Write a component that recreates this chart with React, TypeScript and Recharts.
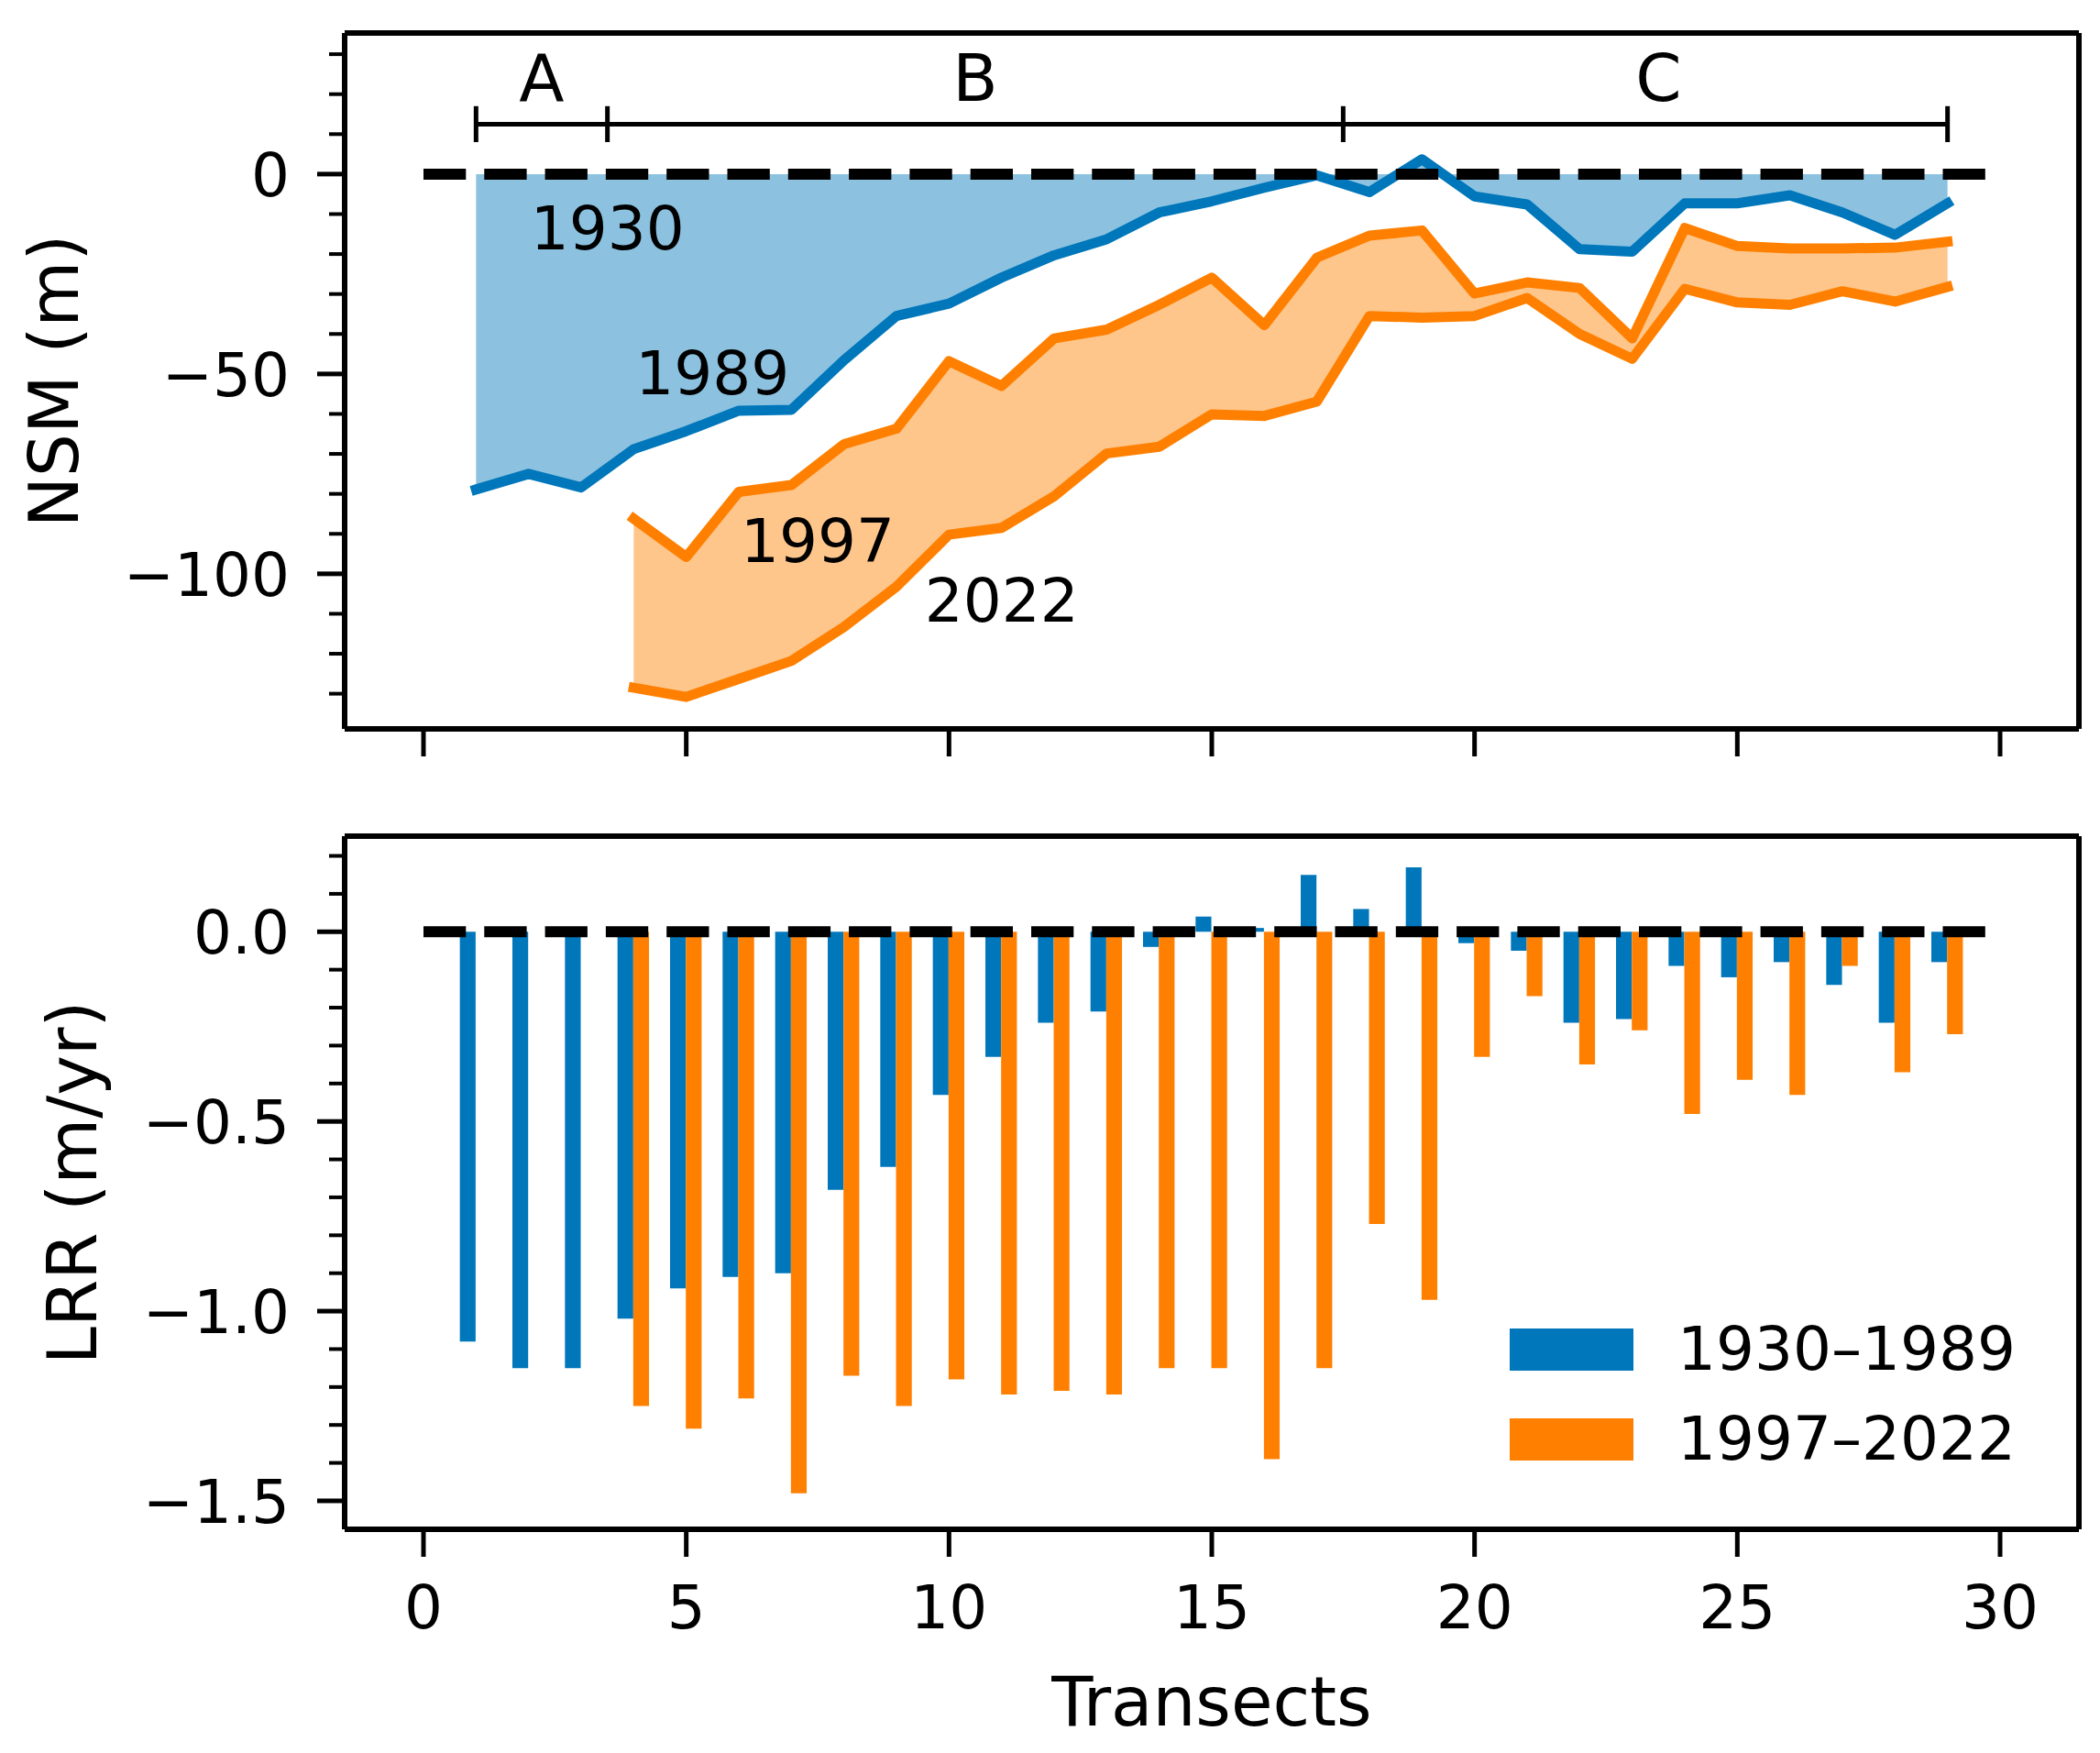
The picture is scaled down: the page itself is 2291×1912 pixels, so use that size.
import React from 'react';
import {
  ComposedChart,
  Line,
  Area,
  Bar,
  XAxis,
  YAxis,
  ReferenceLine,
  ReferenceDot,
  Legend,
} from 'recharts';

// ---------------- data ----------------
const TRANSECTS = [1, 2, 3, 4, 5, 6, 7, 8, 9, 10, 11, 12, 13, 14, 15, 16, 17, 18, 19, 20, 21, 22, 23, 24, 25, 26, 27, 28, 29];

const NSM_1989 = [-78.9, -75.0, -78.4, -68.8, -64.3, -59.2, -59.0, -46.6, -35.5, -32.4, -25.9, -20.3, -16.3, -9.6, -6.8, -3.4, -0.3, -4.5, 3.7, -5.6, -7.6, -18.8, -19.4, -7.3, -7.3, -5.3, -9.6, -15.2, -7.3];
const NSM_1997 = [null, null, null, -86.2, -95.8, -79.5, -77.8, -67.6, -63.7, -46.8, -53.0, -41.1, -38.9, -32.7, -25.9, -37.8, -20.9, -15.4, -14.1, -29.9, -27.1, -28.5, -41.1, -13.5, -18.0, -18.6, -18.6, -18.4, -16.9];
const NSM_2022 = [null, null, null, -128.5, -130.8, -126.3, -121.8, -113.3, -103.2, -90.2, -88.5, -80.6, -69.9, -68.2, -60.1, -60.5, -56.9, -35.5, -35.9, -35.5, -31.0, -40.0, -46.2, -28.7, -32.1, -32.7, -29.3, -31.9, -28.2];

const LRR_1930_1989 = [-1.08, -1.15, -1.15, -1.02, -0.94, -0.91, -0.9, -0.68, -0.62, -0.43, -0.33, -0.24, -0.21, -0.04, 0.04, 0.01, 0.15, 0.06, 0.17, -0.03, -0.05, -0.24, -0.23, -0.09, -0.12, -0.08, -0.14, -0.24, -0.08];
const LRR_1997_2022 = [null, null, null, -1.25, -1.31, -1.23, -1.48, -1.17, -1.25, -1.18, -1.22, -1.21, -1.22, -1.15, -1.15, -1.39, -1.15, -0.77, -0.97, -0.33, -0.17, -0.35, -0.26, -0.48, -0.39, -0.43, -0.09, -0.37, -0.27];

const SERIES_NAMES = ['1930–1989', '1997–2022'];

const X_TICKS = [0, 5, 10, 15, 20, 25, 30];
const NSM_TICKS = [30, 20, 10, 0, -10, -20, -30, -40, -50, -60, -70, -80, -90, -100, -110, -120, -130];
const NSM_MAJOR = [0, -50, -100];
const LRR_TICKS = [0.2, 0.1, 0, -0.1, -0.2, -0.3, -0.4, -0.5, -0.6, -0.7, -0.8, -0.9, -1.0, -1.1, -1.2, -1.3, -1.4, -1.5];
const LRR_MAJOR = [0, -0.5, -1.0, -1.5];

const SECTION_EDGES = [1, 3.5, 17.5, 29];
const SECTION_LABELS = ['A', 'B', 'C'];
const SECTION_LABEL_X = [2.25, 10.5, 23.5];
const SECTION_LABEL_Y = 24.2;
const SECTION_BAR_Y = 12.5;
const SECTION_TICK_Y = [8, 17];

const YEAR_LABELS = ['1930', '1989', '1997', '2022'];
const YEAR_LABEL_X = [3.5, 5.5, 7.5, 11.0];
const YEAR_LABEL_Y = [-13.3, -49.7, -91.5, -106.4];

const ZERO_LINE_X = [0, 30];

// ---------------- axes limits ----------------
const X_DOMAIN: [number, number] = [-1.5, 31.5];
const NSM_DOMAIN: [number, number] = [-138.8, 35.3];
const LRR_DOMAIN: [number, number] = [-1.575, 0.252];

// ---------------- style ----------------
const BLUE = '#0077BB';
const ORANGE = '#FF8000';
const FONT = '"DejaVu Sans", sans-serif';
const TICK_FONT = 66;
const LABEL_FONT = 74;
const SPINE_W = 6;
const LINE_W = 11;

const isMajor = (v: number, majors: number[]) => majors.some((m) => Math.abs(m - v) < 1e-9);
const fmtNsm = (v: number) => (v === 0 ? '0' : (v < 0 ? '\u2212' : '') + Math.abs(v));
const fmtLrr = (v: number) => (Math.abs(v) < 1e-9 ? '0.0' : (v < 0 ? '\u2212' : '') + Math.abs(v).toFixed(1));

function XTick(props: any) {
  const { x, y, payload, showLabel } = props;
  return (
    <g>
      <line x1={x} x2={x} y1={y} y2={y + 30} stroke="#000" strokeWidth={5} />
      {showLabel ? (
        <text x={x} y={y + 108} textAnchor="middle" fontSize={TICK_FONT} fontFamily={FONT} fill="#000">
          {payload.value}
        </text>
      ) : null}
    </g>
  );
}

function YTick(props: any) {
  const { x, y, payload, majors, fmt } = props;
  const v = payload.value;
  const major = isMajor(v, majors);
  return (
    <g>
      <line x1={x - (major ? 30 : 17)} x2={x} y1={y} y2={y} stroke="#000" strokeWidth={major ? 5 : 4} />
      {major ? (
        <text x={x - 60} y={y} dy="0.36em" textAnchor="end" fontSize={TICK_FONT} fontFamily={FONT} fill="#000">
          {fmt(v)}
        </text>
      ) : null}
    </g>
  );
}

const textShape = (text: string, size: number) => (p: any) => (
  <text x={p.cx} y={p.cy} dy="0.36em" textAnchor="middle" fontSize={size} fontFamily={FONT} fill="#000">
    {text}
  </text>
);

const yLabel = (text: string, baselineX: number, fallbackCy: number) => (p: any) => {
  const vb = (p && p.viewBox) || {};
  const cy = vb.height != null ? vb.y + vb.height / 2 : fallbackCy;
  const x = (vb.x != null ? vb.x : 0) + baselineX;
  return (
    <text x={x} y={cy} transform={`rotate(-90 ${x} ${cy})`} textAnchor="middle" fontSize={LABEL_FONT} fontFamily={FONT} fill="#000">
      {text}
    </text>
  );
};

const xLabel = (text: string) => (p: any) => {
  const vb = (p && p.viewBox) || {};
  const cx = vb.width != null ? vb.x + vb.width / 2 : 1322;
  const y = (vb.y != null ? vb.y : 788) + 214;
  return (
    <text x={cx} y={y} textAnchor="middle" fontSize={LABEL_FONT} fontFamily={FONT} fill="#000">
      {text}
    </text>
  );
};

const renderLegend = (props: any) => {
  const items = (props && props.payload) || [];
  return (
    <div style={{ position: 'relative', width: 620, height: 150 }}>
      {items.map((it: any, i: number) => (
        <div
          key={String(it.value)}
          style={{ position: 'absolute', left: 0, top: i * 98, height: 46, display: 'flex', alignItems: 'center', whiteSpace: 'nowrap' }}
        >
          <div style={{ width: 135, height: 46, background: it.color }} />
          <span style={{ marginLeft: 48, fontSize: TICK_FONT, fontFamily: FONT, lineHeight: '46px', color: '#000' }}>{it.value}</span>
        </div>
      ))}
    </div>
  );
};

export default function App() {
  const nsmRows = TRANSECTS.map((x, i) => ({
    x,
    n1989: NSM_1989[i],
    n1997: NSM_1997[i],
    n2022: NSM_2022[i],
    blueBand: [0, NSM_1989[i]],
    orangeBand: NSM_1997[i] == null || NSM_2022[i] == null ? null : [NSM_2022[i], NSM_1997[i]],
  }));
  const lrrRows = TRANSECTS.map((x, i) => ({ x, a: LRR_1930_1989[i], b: LRR_1997_2022[i] }));

  const dash = { stroke: '#000', strokeWidth: 12, strokeDasharray: '46.3 20' };

  return (
    <div style={{ position: 'absolute', left: 0, top: 0, width: 2291, height: 1912, background: '#fff', overflow: 'hidden' }}>
      <div style={{ position: 'absolute', left: 0, top: 0 }}>
        <ComposedChart width={2291} height={880} data={nsmRows} margin={{ top: 36, right: 23, left: 0, bottom: 0 }}>
          <XAxis
            type="number"
            dataKey="x"
            domain={X_DOMAIN}
            allowDataOverflow
            ticks={X_TICKS}
            interval={0}
            height={85}
            tickSize={0}
            tickMargin={0}
            tickLine={false}
            axisLine={{ stroke: '#000', strokeWidth: SPINE_W }}
            tick={(p: any) => <XTick {...p} showLabel={false} />}
          />
          <YAxis
            type="number"
            domain={NSM_DOMAIN}
            allowDataOverflow
            ticks={NSM_TICKS}
            interval={0}
            width={376}
            tickSize={0}
            tickMargin={0}
            tickLine={false}
            axisLine={{ stroke: '#000', strokeWidth: SPINE_W }}
            tick={(p: any) => <YTick {...p} majors={NSM_MAJOR} fmt={fmtNsm} />}
            label={yLabel('NSM (m)', 85, 379)}
          />
          <Area dataKey="blueBand" stroke="none" fill={BLUE} fillOpacity={0.45} isAnimationActive={false} dot={false} activeDot={false} />
          <Area dataKey="orangeBand" stroke="none" fill={ORANGE} fillOpacity={0.45} isAnimationActive={false} dot={false} activeDot={false} />
          <Line dataKey="n1989" stroke={BLUE} strokeWidth={LINE_W} dot={false} activeDot={false} isAnimationActive={false} strokeLinejoin="round" strokeLinecap="square" />
          <Line dataKey="n1997" stroke={ORANGE} strokeWidth={LINE_W} dot={false} activeDot={false} isAnimationActive={false} strokeLinejoin="round" strokeLinecap="square" />
          <Line dataKey="n2022" stroke={ORANGE} strokeWidth={LINE_W} dot={false} activeDot={false} isAnimationActive={false} strokeLinejoin="round" strokeLinecap="square" />
          <ReferenceLine segment={[{ x: ZERO_LINE_X[0], y: 0 }, { x: ZERO_LINE_X[1], y: 0 }]} {...dash} />
          <ReferenceLine
            segment={[{ x: SECTION_EDGES[0], y: SECTION_BAR_Y }, { x: SECTION_EDGES[SECTION_EDGES.length - 1], y: SECTION_BAR_Y }]}
            stroke="#000"
            strokeWidth={5}
          />
          {SECTION_EDGES.map((e) => (
            <ReferenceLine key={'edge' + e} segment={[{ x: e, y: SECTION_TICK_Y[0] }, { x: e, y: SECTION_TICK_Y[1] }]} stroke="#000" strokeWidth={5} />
          ))}
          {SECTION_LABELS.map((s, i) => (
            <ReferenceDot key={'sec' + s} x={SECTION_LABEL_X[i]} y={SECTION_LABEL_Y} r={0} shape={textShape(s, 72)} />
          ))}
          {YEAR_LABELS.map((s, i) => (
            <ReferenceDot key={'yr' + s} x={YEAR_LABEL_X[i]} y={YEAR_LABEL_Y[i]} r={0} shape={textShape(s, TICK_FONT)} />
          ))}
          <ReferenceLine y={NSM_DOMAIN[1]} stroke="#000" strokeWidth={SPINE_W} ifOverflow="visible" />
          <ReferenceLine x={X_DOMAIN[1]} stroke="#000" strokeWidth={SPINE_W} ifOverflow="visible" />
        </ComposedChart>
      </div>

      <div style={{ position: 'absolute', left: 0, top: 880 }}>
        <ComposedChart width={2291} height={1032} data={lrrRows} margin={{ top: 32, right: 23, left: 0, bottom: 0 }} barGap={0}>
          <XAxis
            type="number"
            dataKey="x"
            domain={X_DOMAIN}
            allowDataOverflow
            ticks={X_TICKS}
            interval={0}
            height={244}
            tickSize={0}
            tickMargin={0}
            tickLine={false}
            axisLine={{ stroke: '#000', strokeWidth: SPINE_W }}
            tick={(p: any) => <XTick {...p} showLabel />}
            label={xLabel('Transects')}
          />
          <YAxis
            type="number"
            domain={LRR_DOMAIN}
            allowDataOverflow
            ticks={LRR_TICKS}
            interval={0}
            width={376}
            tickSize={0}
            tickMargin={0}
            tickLine={false}
            axisLine={{ stroke: '#000', strokeWidth: SPINE_W }}
            tick={(p: any) => <YTick {...p} majors={LRR_MAJOR} fmt={fmtLrr} />}
            label={yLabel('LRR (m/yr)', 105, 410)}
          />
          <Bar dataKey="a" name={SERIES_NAMES[0]} fill={BLUE} barSize={17.2} isAnimationActive={false} />
          <Bar dataKey="b" name={SERIES_NAMES[1]} fill={ORANGE} barSize={17.2} isAnimationActive={false} />
          <ReferenceLine segment={[{ x: ZERO_LINE_X[0], y: 0 }, { x: ZERO_LINE_X[1], y: 0 }]} {...dash} />
          <ReferenceLine y={LRR_DOMAIN[1]} stroke="#000" strokeWidth={SPINE_W} ifOverflow="visible" />
          <ReferenceLine x={X_DOMAIN[1]} stroke="#000" strokeWidth={SPINE_W} ifOverflow="visible" />
          <Legend
            layout="vertical"
            align="center"
            verticalAlign="middle"
            content={renderLegend}
            wrapperStyle={{ left: 1647, top: 569, width: 620, height: 150 }}
          />
        </ComposedChart>
      </div>
    </div>
  );
}
